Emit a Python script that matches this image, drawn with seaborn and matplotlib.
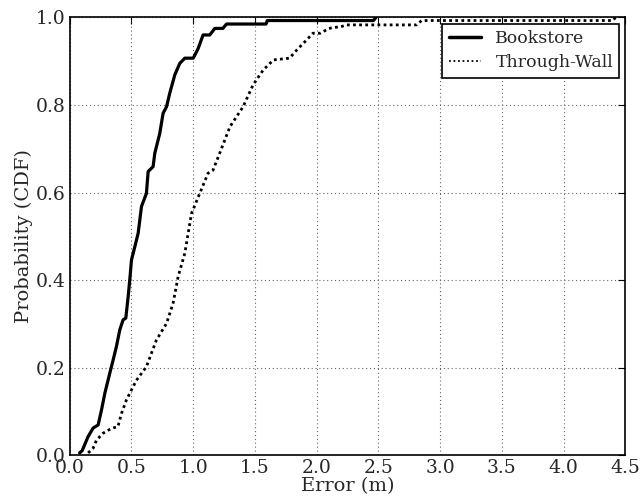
import matplotlib
matplotlib.use("Agg")
import matplotlib.pyplot as plt
import seaborn as sns
import pandas as pd

# Bookstore CDF curve (error in m, probability)
book_x = [0.08, 0.10, 0.12, 0.148, 0.19, 0.23, 0.257, 0.284, 0.324, 0.351, 0.378, 0.405,
          0.432, 0.454, 0.473, 0.486, 0.50, 0.527, 0.554, 0.581, 0.621, 0.635, 0.675, 0.689,
          0.729, 0.756, 0.784, 0.81, 0.851, 0.891, 0.932, 1.0, 1.04, 1.08, 1.134, 1.175,
          1.24, 1.27, 1.59, 1.60, 2.46, 2.48]
book_y = [0.005, 0.01, 0.023, 0.042, 0.062, 0.069, 0.103, 0.141, 0.187, 0.217, 0.248, 0.286,
          0.309, 0.313, 0.362, 0.40, 0.446, 0.476, 0.507, 0.568, 0.598, 0.648, 0.659, 0.69,
          0.735, 0.781, 0.796, 0.827, 0.869, 0.895, 0.907, 0.907, 0.929, 0.96, 0.96, 0.975,
          0.975, 0.985, 0.985, 0.993, 0.993, 1.0]

# Through-Wall CDF curve
wall_x = [0.149, 0.19, 0.216, 0.27, 0.338, 0.39, 0.419, 0.459, 0.50, 0.54, 0.621, 0.702,
          0.784, 0.837, 0.878, 0.932, 0.986, 1.053, 1.12, 1.16, 1.215, 1.297, 1.404, 1.485,
          1.567, 1.65, 1.78, 1.84, 1.92, 1.97, 2.03, 2.10, 2.21, 2.24, 2.81, 2.85, 4.40, 4.42]
wall_y = [0.005, 0.016, 0.034, 0.05, 0.061, 0.065, 0.095, 0.126, 0.149, 0.171, 0.202, 0.263,
          0.301, 0.347, 0.408, 0.461, 0.552, 0.598, 0.644, 0.651, 0.69, 0.75, 0.796, 0.846,
          0.88, 0.903, 0.907, 0.926, 0.949, 0.964, 0.964, 0.975, 0.98, 0.983, 0.983, 0.993,
          0.993, 1.0]

labels = ["Bookstore", "Through-Wall"]
x_ticks = [0.0, 0.5, 1.0, 1.5, 2.0, 2.5, 3.0, 3.5, 4.0, 4.5]
y_ticks = [0.0, 0.2, 0.4, 0.6, 0.8, 1.0]

df = pd.concat([
    pd.DataFrame({"x": book_x, "y": book_y, "series": labels[0]}),
    pd.DataFrame({"x": wall_x, "y": wall_y, "series": labels[1]}),
])

sns.set_style("white")
plt.rcParams["font.family"] = ["DejaVu Serif"]
plt.rcParams["xtick.direction"] = "in"
plt.rcParams["ytick.direction"] = "in"

fig = plt.figure(figsize=(6.4, 4.99), dpi=100)
ax = fig.add_axes([0.109, 0.088, 0.868, 0.877])

sns.lineplot(data=df, x="x", y="y", hue="series", style="series",
             palette={labels[0]: "black", labels[1]: "black"},
             dashes={labels[0]: "", labels[1]: (1, 1.2)},
             sort=False, estimator=None, ax=ax, legend=False)
lines = ax.get_lines()
lines[0].set_linewidth(2.3)
lines[1].set_linewidth(2.0)

ax.set_xlim(0, 4.5)
ax.set_ylim(0, 1.0)
ax.set_xticks(x_ticks)
ax.set_yticks(y_ticks)
ax.set_xticklabels([f"{t:.1f}" for t in x_ticks], fontsize=13.5)
ax.set_yticklabels([f"{t:.1f}" for t in y_ticks], fontsize=13.5)
ax.tick_params(which="both", direction="in", top=True, right=True, length=5,
               width=0.8, color="black", pad=3)
ax.set_xlabel("Error (m)", fontsize=14, labelpad=0)
ax.set_ylabel("Probability (CDF)", fontsize=14, labelpad=2)
ax.grid(True, color="#666666", linestyle=(0, (1, 2.5)), linewidth=0.8)
for s in ax.spines.values():
    s.set_color("black")
    s.set_linewidth(1.2)

leg_lines = [plt.Line2D([], [], color="black", linewidth=2.5),
             plt.Line2D([], [], color="black", linewidth=1.3, linestyle=(0, (1, 1.5)))]
leg = ax.legend(leg_lines, labels, loc="upper right", fontsize=12.5, frameon=True,
                fancybox=False, edgecolor="black", framealpha=1, handlelength=1.9,
                handletextpad=0.8, borderpad=0.35, labelspacing=0.45, borderaxespad=0.35)
leg.get_frame().set_linewidth(1.2)

fig.savefig("out.png", dpi=100)
